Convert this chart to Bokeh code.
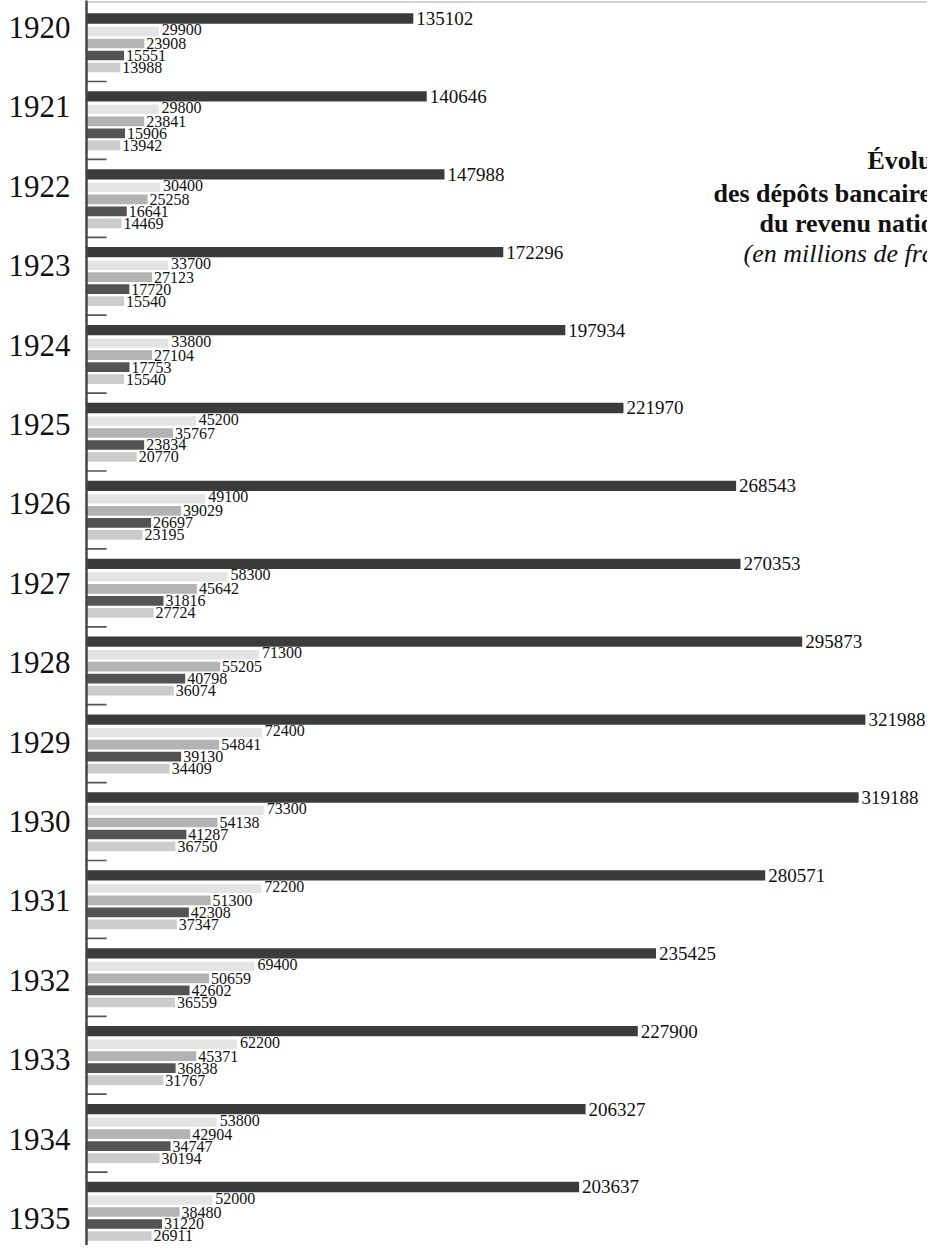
from bokeh.plotting import figure
from bokeh.models import (FactorRange, Range1d, ColumnDataSource, Label,
                          CategoricalAxis, Span)
from bokeh.transform import dodge
from bokeh.core.properties import value
from bokeh.embed import file_html
from bokeh.resources import INLINE

years = ["1920", "1921", "1922", "1923", "1924", "1925", "1926", "1927",
         "1928", "1929", "1930", "1931", "1932", "1933", "1934", "1935"]

revenu = [135102, 140646, 147988, 172296, 197934, 221970, 268543, 270353,
          295873, 321988, 319188, 280571, 235425, 227900, 206327, 203637]
serie_a = [29900, 29800, 30400, 33700, 33800, 45200, 49100, 58300,
           71300, 72400, 73300, 72200, 69400, 62200, 53800, 52000]
serie_b = [23908, 23841, 25258, 27123, 27104, 35767, 39029, 45642,
           55205, 54841, 54138, 51300, 50659, 45371, 42904, 38480]
serie_c = [15551, 15906, 16641, 17720, 17753, 23834, 26697, 31816,
           40798, 39130, 41287, 42308, 42602, 36838, 34747, 31220]
serie_d = [13988, 13942, 14469, 15540, 15540, 20770, 23195, 27724,
           36074, 34409, 36750, 37347, 36559, 31767, 30194, 26911]
serie_e = [8300, 8300, 8300, 8300, 8300, 8300, 8300, 8300,
           8300, 8300, 8300, 8300, 8300, 8300, 8700, 8700]

title_lines = ["Évolution", "des dépôts bancaires et", "du revenu national",
               "(en millions de francs)"]

SERIF = "Liberation Serif"
K = 0.002419          # pixels per million francs
LEFT = 86             # frame left border (px)
W, H = 927, 1245
PAD = -0.009          # bars: one year = 77.9 px
S = H / (16 + 2 * PAD)
PAD_LAB = -0.160      # printed years: spaced a little wider

p = figure(width=W, height=H,
           y_range=FactorRange(*years[::-1], range_padding=PAD,
                               range_padding_units="absolute"),
           x_range=Range1d(0, (W - LEFT) / K),
           x_axis_location=None, y_axis_location=None,
           output_backend="svg", toolbar_location=None,
           min_border_left=LEFT, min_border_right=0,
           min_border_top=0, min_border_bottom=0)

p.xgrid.visible = False
p.ygrid.visible = False
p.outline_line_color = None
p.background_fill_color = "white"
p.border_fill_color = "white"

p.extra_y_ranges = {"annees": FactorRange(*years[::-1],
                                          range_padding=PAD_LAB,
                                          range_padding_units="absolute")}
ax = CategoricalAxis(y_range_name="annees")
ax.major_label_text_font = SERIF
ax.major_label_text_font_size = "31px"
ax.major_label_text_color = "#111111"
ax.major_tick_line_color = None
ax.minor_tick_line_color = None
ax.axis_line_color = "#444444"
ax.axis_line_width = 2.5
ax.major_label_standoff = 10
p.add_layout(ax, "left")

# (values, dodge, colour, bar height, label font size, label x offset, label y offset)
specs = [
    (revenu, 0.260, "#3b3b3b", 0.132, "19px", 3, 0),
    (serie_a, 0.093, "#e4e4e4", 0.120, "16px", 3, -2),
    (serie_b, -0.061, "#b3b3b3", 0.125, "16px", 2, 0),
    (serie_c, -0.215, "#535353", 0.125, "16px", 2, 0),
    (serie_d, -0.369, "#cccccc", 0.125, "16px", 2, 0),
    (serie_e, -0.549, "#555555", 0.022, None, 0, 0),
]

for vals, dg, col, h, fs, xo, yo in specs:
    src = ColumnDataSource(dict(year=years, val=vals,
                                lab=[str(v) for v in vals]))
    ydg = dodge("year", dg, range=p.y_range)
    p.hbar(y=ydg, left=0, right="val", height=h, source=src,
           fill_color=col, line_color=None)
    if fs is not None:
        p.text(x="val", y=ydg, text="lab", source=src,
               text_font=value(SERIF), text_font_size=fs,
               text_color="#111111", text_baseline="middle",
               text_align="left", x_offset=xo, y_offset=yo)

# dotted top border of the frame
p.add_layout(Span(location=16 + PAD - 1.5 / S, dimension="width",
                  line_color="#8a8a8a", line_width=1.5, line_dash="1 1"))

# title block (partly outside the visible area, as in the reference)
tx = [868, 714, 760, 744]
t_base = [160, 193, 223, 253]
for i, line in enumerate(title_lines):
    p.add_layout(Label(x=(tx[i] - 87) / K, y=16 + PAD - t_base[i] / S,
                       text=line, text_font=SERIF, text_font_size="26px",
                       text_font_style="italic" if i == 3 else "bold",
                       text_color="#111111", text_baseline="alphabetic",
                       text_align="left"))

open("out.html", "w").write(file_html(p, INLINE))
